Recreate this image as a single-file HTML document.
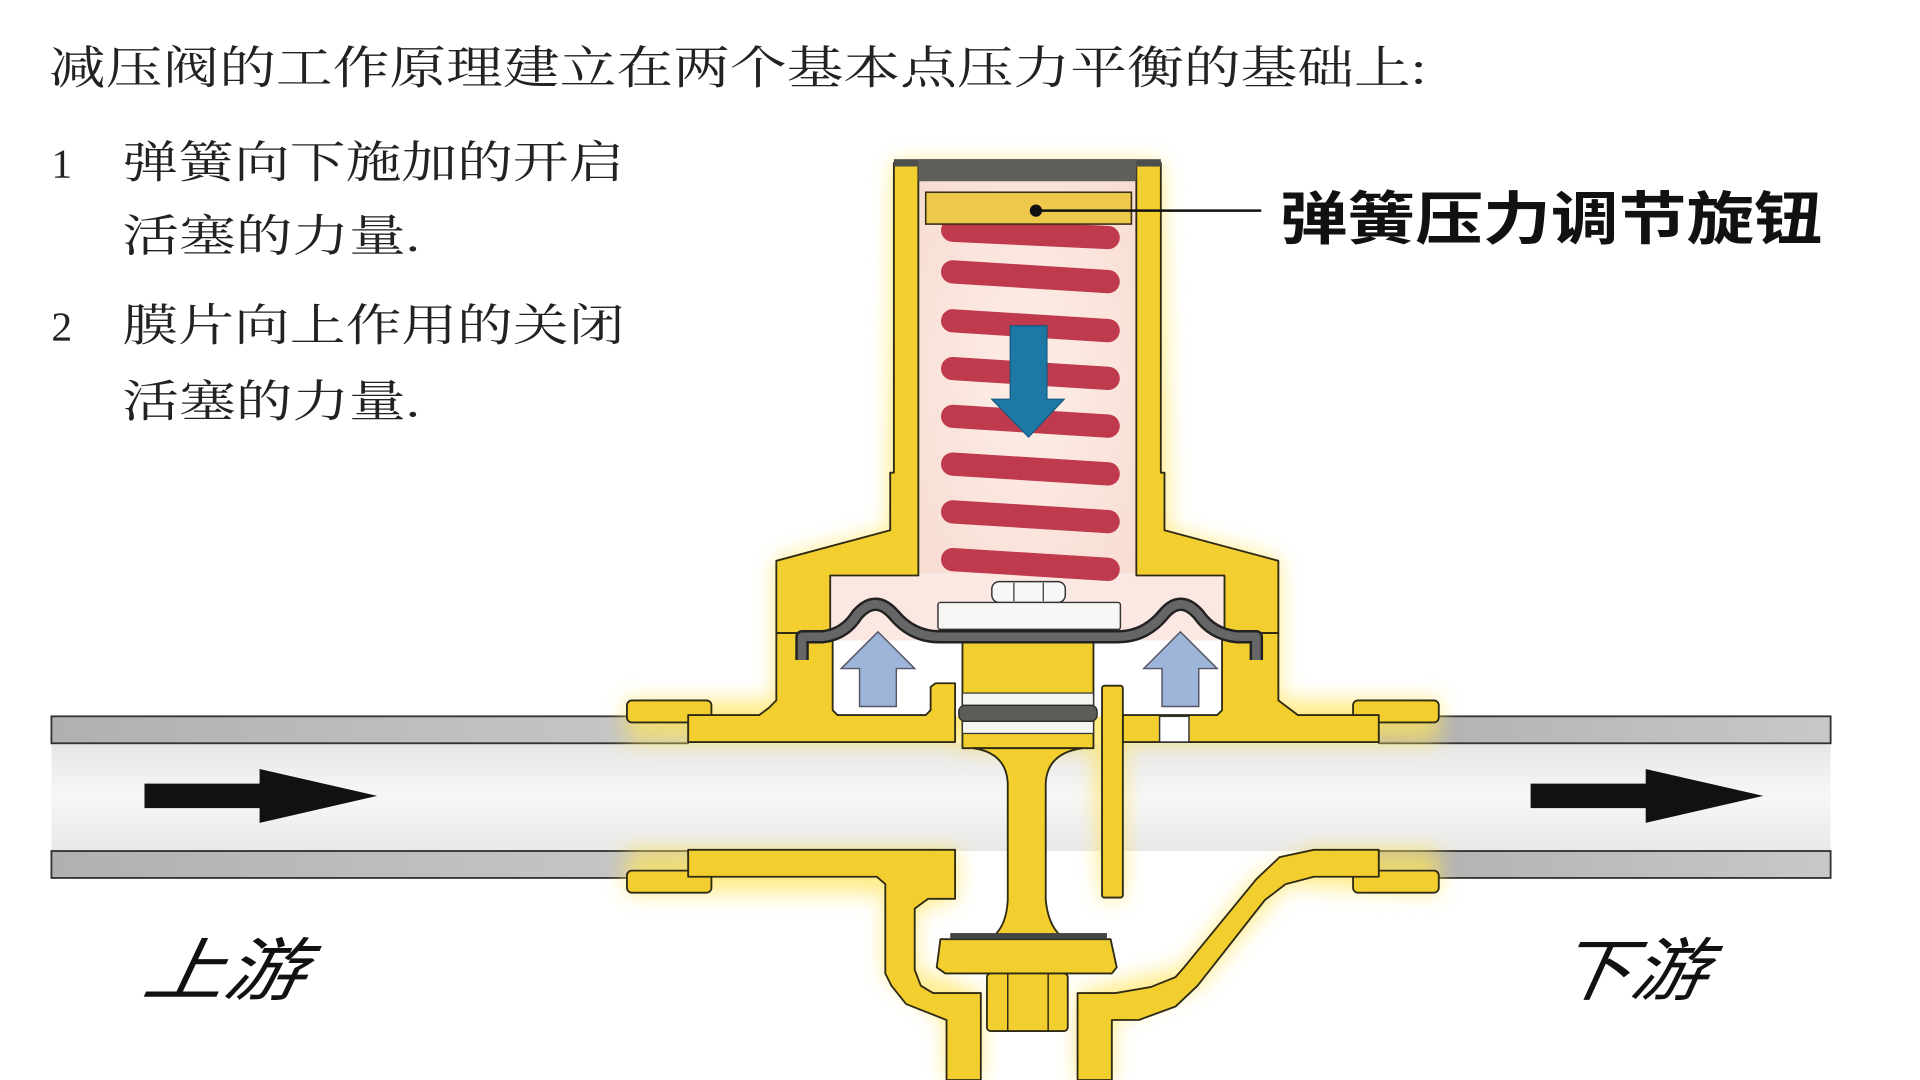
<!DOCTYPE html>
<html><head><meta charset="utf-8"><style>
html,body{margin:0;padding:0;background:#fff;width:1920px;height:1080px;overflow:hidden}
svg{display:block}
</style></head><body>
<svg width="1920" height="1080" viewBox="0 0 1568 882" preserveAspectRatio="none" xmlns="http://www.w3.org/2000/svg">
<defs>
<filter id="glow" x="-20%" y="-20%" width="140%" height="140%"><feGaussianBlur stdDeviation="9"/></filter>
<linearGradient id="pipe" x1="0" y1="0" x2="0" y2="1"><stop offset="0" stop-color="#e6e6e6"/><stop offset=".5" stop-color="#f7f7f7"/><stop offset="1" stop-color="#e8e8e8"/></linearGradient>
<linearGradient id="wall" x1="0" y1="0" x2="1" y2="0"><stop offset="0" stop-color="#b0b0b0"/><stop offset="1" stop-color="#c8c8c8"/></linearGradient>
<radialGradient id="pink" cx=".5" cy=".5" r=".7"><stop offset="0" stop-color="#fdeee8"/><stop offset="1" stop-color="#f8dcd2"/></radialGradient>
</defs>
<rect width="1568" height="882" fill="#fff"/>

<g font-family="'Liberation Serif','Noto Serif CJK SC',serif" fill="#222">
<text x="40" y="68" font-size="37" textLength="1125" lengthAdjust="spacingAndGlyphs">减压阀的工作原理建立在两个基本点压力平衡的基础上:</text>
<text x="42" y="145" font-size="34">1</text>
<text x="100" y="145" font-size="36" textLength="410" lengthAdjust="spacingAndGlyphs">弹簧向下施加的开启</text>
<text x="100" y="205" font-size="36" textLength="243" lengthAdjust="spacingAndGlyphs">活塞的力量.</text>
<text x="42" y="278" font-size="34">2</text>
<text x="100" y="278" font-size="36" textLength="410" lengthAdjust="spacingAndGlyphs">膜片向上作用的关闭</text>
<text x="100" y="340" font-size="36" textLength="243" lengthAdjust="spacingAndGlyphs">活塞的力量.</text>
</g>
<text x="1045" y="195" font-family="'Liberation Sans','Noto Sans CJK SC',sans-serif" font-weight="bold" font-size="47" fill="#111" textLength="443" lengthAdjust="spacingAndGlyphs">弹簧压力调节旋钮</text>
<g font-family="'Liberation Sans','Noto Sans CJK SC',sans-serif" font-style="italic" font-size="56" fill="#111">
<text x="115" y="812" textLength="132" lengthAdjust="spacingAndGlyphs" transform="skewX(-10) translate(143,0)">上游</text>
<text x="1268" y="812" textLength="124" lengthAdjust="spacingAndGlyphs" transform="skewX(-10) translate(143,0)">下游</text>
</g>

<rect x="42" y="607" width="1453" height="88" fill="url(#pipe)"/>
<g fill="url(#wall)" stroke="#333" stroke-width="1.5">
<rect x="42" y="585" width="520" height="22"/>
<rect x="42" y="695" width="520" height="22"/>
<rect x="1126" y="585" width="369" height="22"/>
<rect x="1126" y="695" width="369" height="22"/>
</g>
<polygon points="118,640 212,640 212,628 308,650 212,672 212,660 118,660" fill="#111"/>
<polygon points="1250,640 1344,640 1344,628 1440,650 1344,672 1344,660 1250,660" fill="#111"/>

<g fill="#ffe45a" opacity=".75" filter="url(#glow)">
<polygon points="730,133 948,133 953,386 953,433 1044,458 1044,572 1175,572 1175,606 917,606 917,733 900,733 893,611 786,611 780,606 512,606 512,572 634,572 634,458 727,433 727,386"/>
<polygon points="512,694 781,694 781,734 747,742 747,792 801,811 801,882 773,882 773,833 723,795 723,729 512,729"/>
<polygon points="880,882 880,811 967,790 1026,718 1073,694 1175,694 1175,729 1050,722 978,805 908,833 908,882"/>
</g>

<rect x="750" y="140" width="178" height="335" fill="url(#pink)"/>
<rect x="678" y="468" width="322" height="55" fill="#fbe8e2"/>
<rect x="680" y="523" width="318" height="62" fill="#fff"/>

<g fill="#f2cf2e" stroke="#2e2a14" stroke-width="1.5" stroke-linejoin="round">
<polygon points="730,133 750,133 750,470 678,470 678,517 634,517 634,458 727,433 727,386 730,386"/>
<polygon points="948,133 928,133 928,470 1000,470 1000,517 1044,517 1044,458 951,433 951,386 948,386"/>
<rect x="512" y="572" width="69" height="18" rx="4"/>
<rect x="1105" y="572" width="70" height="18" rx="4"/>
<rect x="512" y="711" width="69" height="18" rx="4"/>
<rect x="1105" y="711" width="70" height="18" rx="4"/>
<polygon points="634,517 680,517 680,580 684,584 756,584 760,580 760,561 764,558 780,558 780,606 562,606 562,584 620,584 628,578 634,572"/>
<polygon points="1044,517 998,517 998,580 994,584 917,584 917,606 1126,606 1126,584 1060,584 1052,578 1044,572"/>
<polygon points="562,694 780,694 780,734 758,734 747,742 747,792 752,805 762,811 801,811 801,882 773,882 773,833 740,820 728,805 723,795 723,722 716,716 562,716"/>
<polygon points="880,882 880,811 911,811 940,806 960,798 967,790 1026,718 1045,700 1073,694 1126,694 1126,716 1073,716 1050,722 1033,735 978,805 960,822 930,833 908,833 908,882"/>
<rect x="786" y="520" width="107" height="91"/>
<path d="M795 611 L884 611 Q855 615 854 640 L854 735 Q856 755 866 764 L812 764 Q822 755 823 735 L823 640 Q822 615 795 611 Z"/>
<polygon points="768,767 907,767 912,790 908,795 772,795 765,790"/>
<rect x="806" y="795" width="66" height="47" rx="3"/>
<rect x="900" y="560" width="17" height="173" rx="2"/>
</g>
<g stroke="#2e2a14" stroke-width="1.2"><line x1="823" y1="795" x2="823" y2="842"/><line x1="856" y1="795" x2="856" y2="842"/></g>
<rect x="776" y="762" width="128" height="5" fill="#444"/>
<rect x="786" y="566" width="107" height="10" fill="#f5f5f0" stroke="#333" stroke-width="1"/>
<rect x="786" y="589" width="107" height="10" fill="#f5f5f0" stroke="#333" stroke-width="1"/>
<rect x="783" y="576" width="113" height="13" rx="5" fill="#5b5b58" stroke="#222" stroke-width="1"/>
<rect x="947" y="585" width="24" height="21" fill="#fff" stroke="#333" stroke-width="1.2"/>

<rect x="730" y="130" width="218" height="6" fill="#4e4e4a"/>
<rect x="750" y="130" width="178" height="18" fill="#5e5e5a"/>
<g stroke="#c03a4d" stroke-width="19" stroke-linecap="round">
<line x1="778" y1="188" x2="905" y2="194"/>
<line x1="778" y1="222" x2="905" y2="230"/>
<line x1="778" y1="262" x2="905" y2="270"/>
<line x1="778" y1="301" x2="905" y2="309"/>
<line x1="778" y1="340" x2="905" y2="348"/>
<line x1="778" y1="379" x2="905" y2="387"/>
<line x1="778" y1="418" x2="905" y2="426"/>
<line x1="778" y1="457" x2="905" y2="465"/>
</g>
<rect x="756" y="157" width="168" height="26" fill="#eec84a" stroke="#3a3012" stroke-width="1.3"/>
<line x1="846" y1="172" x2="1030" y2="172" stroke="#111" stroke-width="2"/>
<circle cx="846" cy="172" r="5" fill="#111"/>
<polygon points="825,266 855,266 855,326 869,326 840,357 810,326 825,326" fill="#1e78a6" stroke="#145a80" stroke-width="1"/>
<g fill="#f7f7f5" stroke="#333" stroke-width="1.2">
<rect x="810" y="475" width="60" height="17" rx="6"/>
<rect x="766" y="492" width="149" height="22" rx="2"/>
</g>
<line x1="828" y1="476" x2="828" y2="491" stroke="#333"/><line x1="852" y1="476" x2="852" y2="491" stroke="#333"/>
<path d="M655 539 L655 520 L672 520 Q690 518 700 502 Q715 485 730 502 Q745 520 767 520 L913 520 Q935 520 950 502 Q964 485 979 502 Q990 518 1010 520 L1026 520 L1026 539" fill="none" stroke="#222" stroke-width="11" stroke-linejoin="round"/>
<path d="M655 539 L655 520 L672 520 Q690 518 700 502 Q715 485 730 502 Q745 520 767 520 L913 520 Q935 520 950 502 Q964 485 979 502 Q990 518 1010 520 L1026 520 L1026 539" fill="none" stroke="#666" stroke-width="7" stroke-linejoin="round"/>
<g fill="#9db5d8" stroke="#556" stroke-width="1.2">
<polygon points="717,516 747,546 732,546 732,577 702,577 702,546 687,546"/>
<polygon points="964,516 994,546 979,546 979,577 949,577 949,546 934,546"/>
</g>
</svg>
</body></html>
